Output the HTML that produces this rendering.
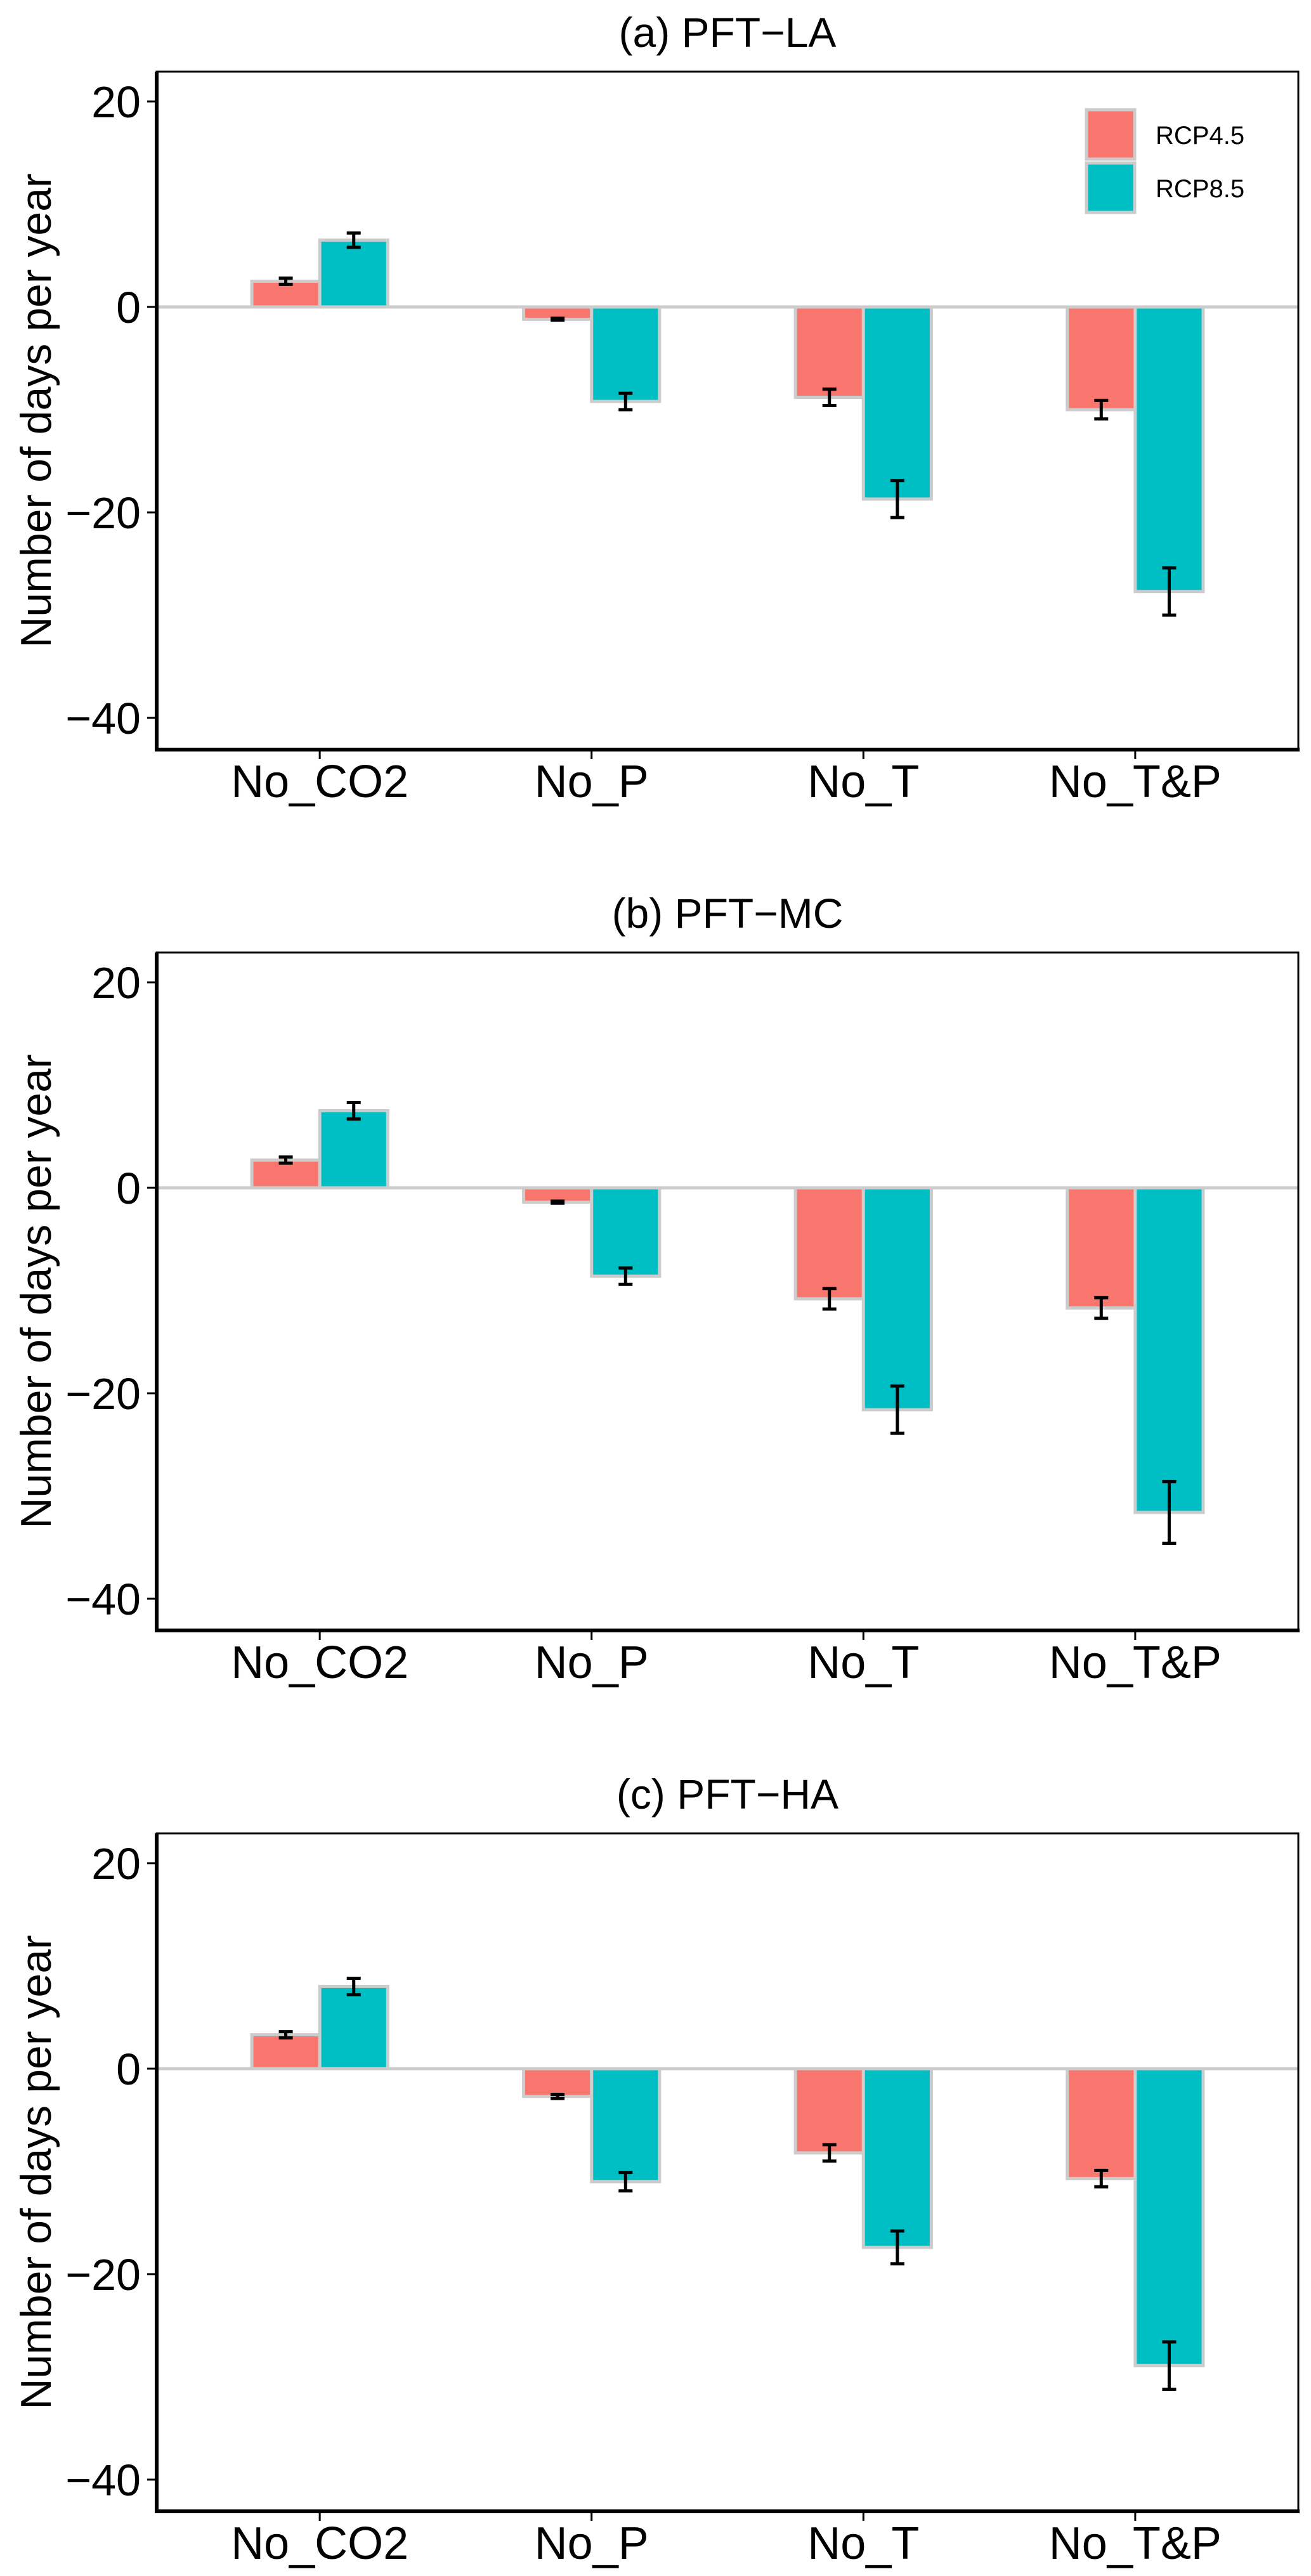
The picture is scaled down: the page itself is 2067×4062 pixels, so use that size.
<!DOCTYPE html>
<html><head><meta charset="utf-8"><style>
html,body{margin:0;padding:0;background:#fff;}
svg{display:block;}
text{font-family:"Liberation Sans",Arial,sans-serif;fill:#000;}
</style></head><body>
<svg id="fig" width="2067" height="4062" viewBox="0 0 2067 4062" xmlns="http://www.w3.org/2000/svg"></svg>
<script>
const categories = ["No_CO2","No_P","No_T","No_T&P"];
const panelTitles = ["(a) PFT\u2212LA","(b) PFT\u2212MC","(c) PFT\u2212HA"];
const seriesNames = ["RCP4.5","RCP8.5"];
const yTicks = [20,0,-20,-40];
const yTickLabels = ["20","0","\u221220","\u221240"];
const rcp45A = [2.5,-1.2,-8.8,-10.0];
const rcp85A = [6.5,-9.2,-18.7,-27.7];
const err45A = [0.3,0.1,0.8,0.9];
const err85A = [0.7,0.8,1.8,2.3];
const rcp45B = [2.7,-1.4,-10.8,-11.7];
const rcp85B = [7.5,-8.6,-21.6,-31.6];
const err45B = [0.3,0.1,1.0,1.0];
const err85B = [0.8,0.8,2.3,3.0];
const rcp45C = [3.3,-2.7,-8.2,-10.7];
const rcp85C = [8.0,-11.0,-17.4,-28.9];
const err45C = [0.3,0.2,0.8,0.8];
const err85C = [0.8,0.9,1.6,2.3];

const colors = ["#F8766D","#00BFC4"];
const NS = "http://www.w3.org/2000/svg";
const svg = document.getElementById("fig");
function mk(tag, attrs, parent){
  const e = document.createElementNS(NS, tag);
  for (const k in attrs) e.setAttribute(k, attrs[k]);
  (parent||svg).appendChild(e);
  return e;
}
const L=247, R=2047, PT=113, PB=1182, Y0=484, PX=16.2, OFF=1389;
const panels = [[rcp45A,rcp85A,err45A,err85A],[rcp45B,rcp85B,err45B,err85B],[rcp45C,rcp85C,err45C,err85C]];
const panelNames=["panel-a","panel-b","panel-c"];
panels.forEach((p,pi)=>{
  const off = pi*OFF;
  const g = mk("g",{});
  
  
  const yS = v => off + Y0 - v*PX;
  const unit = (R-L)/4.2;
  const xS = i => L + (i+0.6)*unit;
  // title
  const t = mk("text",{x:(L+R)/2,y:off+74,"font-size":66,"text-anchor":"middle"},g);
  t.textContent = panelTitles[pi];
  
  
  // zero line
  const z = mk("line",{x1:L,x2:R,y1:yS(0),y2:yS(0),stroke:"#cccccc","stroke-width":5},g);
  
  
  // bars
  const bw = unit*0.25;
  for (let s=0;s<2;s++){
    const vals=p[s], errs=p[s+2];
    vals.forEach((v,i)=>{
      const x0 = xS(i) + (s===0?-bw:0);
      const ya=yS(Math.max(v,0)), yb=yS(Math.min(v,0));
      const b = mk("rect",{x:x0,y:ya,width:bw,height:yb-ya,fill:colors[s],stroke:"#cccccc","stroke-width":5},g);
      
      
      const cx = x0+bw/2, e=errs[i];
      const eg = mk("g",{stroke:"#000","stroke-width":5},g);
      
      
      mk("line",{x1:cx,x2:cx,y1:yS(v+e),y2:yS(v-e)},eg);
      mk("line",{x1:cx-11,x2:cx+11,y1:yS(v+e),y2:yS(v+e)},eg);
      mk("line",{x1:cx-11,x2:cx+11,y1:yS(v-e),y2:yS(v-e)},eg);
    });
  }
  // frame
  const f = mk("rect",{x:L,y:off+PT,width:R-L,height:PB-PT,fill:"none",stroke:"#000","stroke-width":3},g);
  
  
  mk("line",{x1:L,x2:L,y1:off+PT,y2:off+PB+3,stroke:"#000","stroke-width":6},g);
  mk("line",{x1:L-3,x2:R+2,y1:off+PB,y2:off+PB,stroke:"#000","stroke-width":6},g);
  // y ticks
  yTicks.forEach((v,i)=>{
    mk("line",{x1:L-15,x2:L,y1:yS(v),y2:yS(v),stroke:"#000","stroke-width":3},g);
    const tl = mk("text",{x:222,y:yS(v)+25,"font-size":70,"text-anchor":"end"},g);
    tl.textContent = yTickLabels[i];
    
    
  });
  // x ticks
  categories.forEach((c,i)=>{
    mk("line",{x1:xS(i),x2:xS(i),y1:off+PB,y2:off+PB+15,stroke:"#000","stroke-width":3},g);
    const xl = mk("text",{x:xS(i),y:off+1257,"font-size":72,"text-anchor":"middle"},g);
    xl.textContent = c;
    
    
  });
  // y title
  const cy = off+(PT+PB)/2;
  const yt = mk("text",{x:0,y:0,"font-size":68,"text-anchor":"middle",transform:`translate(80 ${cy}) rotate(-90)`},g);
  yt.textContent = "Number of days per year";
  
  
  // legend (only panel a)
  if (pi===0){
    const lg = mk("g",{},g);
    
    
    seriesNames.forEach((n,s)=>{
      const ky = 173 + s*84;
      const k = mk("rect",{x:1713,y:ky,width:76,height:78,fill:colors[s],stroke:"#cccccc","stroke-width":5},lg);
      
      
      const lt = mk("text",{x:1822,y:ky+54,"font-size":40},lg);
      lt.textContent = n;
      
      
    });
  }
});
</script>
</body></html>
